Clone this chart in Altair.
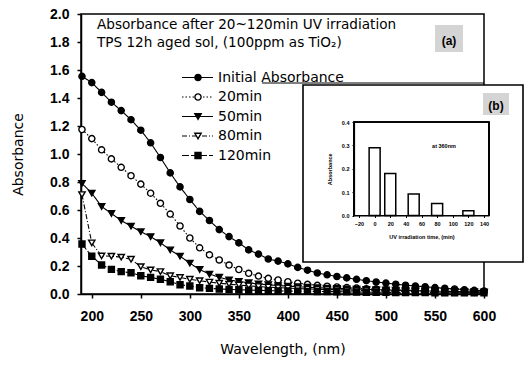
import altair as alt
import pandas as pd

# ---------------- data ----------------
wavelengths = list(range(190, 601, 10))

initial = [1.555, 1.51, 1.44, 1.37, 1.31, 1.245, 1.17, 1.08, 0.975, 0.865,
           0.765, 0.675, 0.59, 0.525, 0.46, 0.41, 0.365, 0.315, 0.285, 0.25,
           0.235, 0.215, 0.19, 0.17, 0.15, 0.137, 0.125, 0.115, 0.105, 0.095,
           0.086, 0.078, 0.07, 0.063, 0.057, 0.052, 0.046, 0.041, 0.036, 0.031,
           0.026, 0.022]
min20 = [1.175, 1.11, 1.03, 0.965, 0.905, 0.845, 0.785, 0.72, 0.648, 0.571,
         0.486, 0.40, 0.33, 0.28, 0.243, 0.207, 0.175, 0.148, 0.128, 0.112,
         0.10, 0.088, 0.077, 0.069, 0.062, 0.056, 0.05, 0.046, 0.042, 0.038,
         0.035, 0.032, 0.03, 0.027, 0.025, 0.023, 0.021, 0.019, 0.017, 0.015,
         0.013, 0.012]
min50 = [0.79, 0.72, 0.625, 0.575, 0.525, 0.485, 0.445, 0.41, 0.366, 0.315,
         0.27, 0.22, 0.175, 0.142, 0.12, 0.10, 0.09, 0.08, 0.072, 0.066,
         0.06, 0.056, 0.052, 0.048, 0.045, 0.042, 0.04, 0.037, 0.035, 0.033,
         0.031, 0.029, 0.027, 0.025, 0.023, 0.022, 0.02, 0.019, 0.018, 0.017,
         0.016, 0.015]
min80 = [0.71, 0.365, 0.272, 0.27, 0.263, 0.248, 0.195, 0.172, 0.16, 0.13,
         0.118, 0.105, 0.095, 0.085, 0.077, 0.07, 0.064, 0.058, 0.053, 0.049,
         0.045, 0.042, 0.039, 0.036, 0.034, 0.032, 0.03, 0.028, 0.026, 0.024,
         0.023, 0.021, 0.02, 0.019, 0.018, 0.017, 0.016, 0.015, 0.014, 0.013,
         0.012, 0.011]
min120 = [0.357, 0.27, 0.207, 0.176, 0.16, 0.152, 0.13, 0.119, 0.105, 0.088,
          0.066, 0.057, 0.045, 0.04, 0.036, 0.033, 0.03, 0.028, 0.026, 0.024,
          0.022, 0.021, 0.02, 0.019, 0.018, 0.017, 0.016, 0.015, 0.014, 0.013,
          0.012, 0.012, 0.011, 0.011, 0.010, 0.010, 0.009, 0.009, 0.009, 0.008,
          0.008, 0.008]

series_names = ["Initial Absorbance", "20min", "50min", "80min", "120min"]
series_values = [initial, min20, min50, min80, min120]

# inset (b)
inset_times = [0, 20, 50, 80, 120]
inset_abs = [0.29, 0.18, 0.092, 0.051, 0.02]

x_ticks = list(range(200, 601, 50))
y_ticks = [round(0.2 * i, 1) for i in range(11)]
inset_x_ticks = list(range(-20, 141, 20))
inset_y_ticks = [0.0, 0.1, 0.2, 0.3, 0.4]

title_lines = ["Absorbance after 20~120min UV irradiation",
               "TPS 12h aged sol, (100ppm as TiO\u2082)"]

# ---------------- styles ----------------
FONT = "Arial"
TFONT = "DejaVu Sans"
styles = {
    "Initial Absorbance": dict(shape="circle", filled=True, dash=[1, 0]),
    "20min": dict(shape="circle", filled=False, dash=[1.5, 2]),
    "50min": dict(shape="triangle-down", filled=True, dash=[1, 0]),
    "80min": dict(shape="triangle-down", filled=False, dash=[5, 2, 1, 2]),
    "120min": dict(shape="square", filled=True, dash=[7, 2]),
}
sizes = {"circle": 38, "triangle-down": 40, "square": 36}

rows = []
for name, vals in zip(series_names, series_values):
    for w, v in zip(wavelengths, vals):
        rows.append({"series": name, "wl": w, "A": v})
df = pd.DataFrame(rows)

xscale = alt.Scale(domain=[189, 600], nice=False, zero=False)
yscale = alt.Scale(domain=[0, 2], nice=False)

xaxis = alt.Axis(values=x_ticks, title="Wavelength, (nm)", labelFontSize=14,
                 labelFont=FONT, labelFontWeight="bold", labelPadding=11,
                 tickSize=4, tickWidth=1.5,
                 domainWidth=1.5, domainColor="black", tickColor="black",
                 labelColor="black", titleColor="black", titleFont=TFONT,
                 titleFontSize=14, titleFontWeight="normal", titlePadding=19,
                 labelFlush=False, grid=False, orient="bottom")
yaxis = alt.Axis(values=y_ticks, format=".1f", title="Absorbance",
                 labelFontSize=14, labelFont=FONT, labelFontWeight="bold",
                 labelPadding=8, tickSize=4,
                 tickWidth=1.5, domainWidth=1.5, domainColor="black",
                 tickColor="black", labelColor="black", titleColor="black",
                 titleFont=TFONT, titleFontSize=14, titleFontWeight="normal",
                 titlePadding=24, grid=False, orient="left")

layers = []
for i, name in enumerate(series_names):
    st = styles[name]
    d = df[df.series == name]
    enc = dict(x=alt.X("wl:Q", scale=xscale, axis=xaxis if i == 0 else None),
               y=alt.Y("A:Q", scale=yscale, axis=yaxis if i == 0 else None))
    line = alt.Chart(d).mark_line(color="black", strokeWidth=1.1,
                                  strokeDash=st["dash"]).encode(**enc)
    enc2 = dict(x=alt.X("wl:Q", scale=xscale, axis=None),
                y=alt.Y("A:Q", scale=yscale, axis=None))
    pts = alt.Chart(d).mark_point(shape=st["shape"], filled=st["filled"],
                                  fill="black" if st["filled"] else "white",
                                  stroke="black", strokeWidth=1.4,
                                  size=sizes[st["shape"]], opacity=1).encode(**enc2)
    layers += [line, pts]

# legend (manual, like the original)
leg_y = [63.5, 83, 102.5, 122, 141.5]
for name, yy in zip(series_names, leg_y):
    st = styles[name]
    ld = pd.DataFrame({"label": [name]})
    layers.append(alt.Chart(ld).mark_rule(color="black", strokeWidth=1.1,
                                          strokeDash=st["dash"]).encode(
        x=alt.value(101), x2=alt.value(132), y=alt.value(yy)))
    layers.append(alt.Chart(ld).mark_point(shape=st["shape"], filled=st["filled"],
                                           fill="black" if st["filled"] else "white",
                                           stroke="black", strokeWidth=1.4,
                                           size=sizes[st["shape"]], opacity=1).encode(
        x=alt.value(117), y=alt.value(yy)))
    layers.append(alt.Chart(ld).mark_text(align="left", baseline="middle",
                                          font=TFONT, fontSize=14,
                                          color="black").encode(
        x=alt.value(137), y=alt.value(yy), text="label:N"))

# title lines
for t, yy in zip(title_lines, [11, 29]):
    layers.append(alt.Chart(pd.DataFrame({"t": [t]})).mark_text(
        align="left", baseline="middle", font=TFONT, fontSize=13.6,
        color="black").encode(x=alt.value(16), y=alt.value(yy), text="t:N"))

# (a) label
layers.append(alt.Chart(pd.DataFrame({"t": ["(a)"]})).mark_rect(
    color="#d4d4d4").encode(x=alt.value(354), x2=alt.value(382),
                            y=alt.value(11), y2=alt.value(38)))
layers.append(alt.Chart(pd.DataFrame({"t": ["(a)"]})).mark_text(
    font=FONT, fontSize=12, fontWeight="bold", color="black",
    baseline="middle").encode(x=alt.value(368), y=alt.value(27), text="t:N"))

# thin line under legend
layers.append(alt.Chart(pd.DataFrame({"t": [0]})).mark_rule(
    color="black", strokeWidth=1).encode(x=alt.value(181), x2=alt.value(403),
                                         y=alt.value(69)))

# inset box
layers.append(alt.Chart(pd.DataFrame({"t": [0]})).mark_rect(
    fill="white", stroke="black", strokeWidth=1.6).encode(
    x=alt.value(222), x2=alt.value(442), y=alt.value(71), y2=alt.value(248)))
# (b) label
layers.append(alt.Chart(pd.DataFrame({"t": ["(b)"]})).mark_rect(
    color="#d4d4d4").encode(x=alt.value(402), x2=alt.value(428),
                            y=alt.value(79), y2=alt.value(101)))
layers.append(alt.Chart(pd.DataFrame({"t": ["(b)"]})).mark_text(
    font=FONT, fontSize=12, fontWeight="bold", color="black",
    baseline="middle").encode(x=alt.value(415), y=alt.value(92), text="t:N"))

# ---------------- inset chart ----------------
idf = pd.DataFrame({"t": inset_times, "a": inset_abs})
ixscale = alt.Scale(domain=[-20, 140], range=[273, 408], nice=False, zero=False)
iyscale = alt.Scale(domain=[0, 0.4], range=[201.5, 108], nice=False)
ixaxis = alt.Axis(orient="bottom", offset=-78.5, values=inset_x_ticks,
                  title="UV irradiation time, (min)", labelFontSize=5.5,
                  labelFontWeight="bold", labelFont=FONT, labelPadding=4,
                  tickSize=2, domainWidth=1.2, domainColor="black",
                  tickColor="black", labelColor="black", titleColor="black",
                  titleFont=FONT, titleFontSize=5.5, titleFontWeight="bold",
                  titlePadding=7, labelFlush=False, grid=False, zindex=2)
iyaxis = alt.Axis(orient="left", offset=-273, values=inset_y_ticks, format=".1f",
                  title="Absorbance", labelFontSize=5.5, labelFontWeight="bold",
                  labelFont=FONT, labelPadding=3, tickSize=2, domainWidth=1.2,
                  domainColor="black", tickColor="black", labelColor="black",
                  titleColor="black", titleFont=FONT, titleFontSize=5.5,
                  titleFontWeight="bold", titlePadding=9, grid=False, zindex=2)

iframe = alt.Chart(idf).mark_rect(
    fillOpacity=0, stroke="black", strokeWidth=1.2).encode(
    x=alt.XDatum(-20, scale=ixscale, axis=None), x2=alt.X2Datum(140),
    y=alt.YDatum(0, scale=iyscale, axis=None), y2=alt.Y2Datum(0.4))
ibars = alt.Chart(idf).mark_bar(size=11, fill="white", stroke="black",
                                strokeWidth=1.5).encode(
    x=alt.X("t:Q", scale=ixscale, axis=ixaxis),
    y=alt.Y("a:Q", scale=iyscale, axis=iyaxis))
itext = alt.Chart(pd.DataFrame({"t": ["at 360nm"]})).mark_text(
    font=FONT, fontSize=5.5, fontWeight="bold", color="black").encode(
    x=alt.value(363), y=alt.value(132), text="t:N")

layers += [iframe, ibars, itext]

chart = alt.layer(*layers).resolve_scale(
    x="independent", y="independent"
).properties(
    width=403, height=280,
    padding={"left": 81, "top": 14, "right": 43, "bottom": 72},
    autosize=alt.AutoSizeParams(type="none"),
    background="white",
).configure_view(stroke="black", strokeWidth=1.5).configure_axis(grid=False)

chart.save("out.html", embed_options={"renderer": "svg", "actions": False})
